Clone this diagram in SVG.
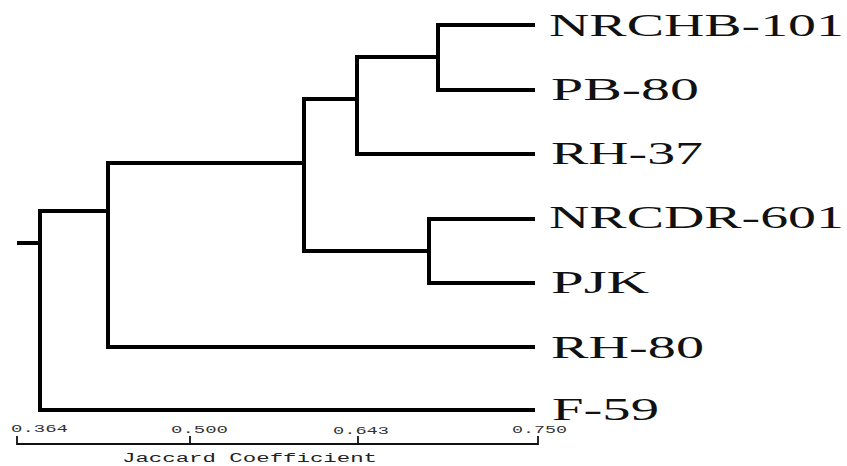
<svg xmlns="http://www.w3.org/2000/svg" width="847" height="466" viewBox="0 0 847 466">
<style>
.br{fill:none;stroke:#000;stroke-width:4;stroke-linecap:square;stroke-linejoin:miter}
.ax{fill:none;stroke:#111;stroke-width:1.8}
.lb{font-family:"Liberation Serif","Times New Roman",serif;font-size:32px;fill:#111}
.tk{font-family:"Liberation Mono","Courier New",monospace;font-size:11px;fill:#333}
.tt{font-family:"Liberation Mono","Courier New",monospace;font-size:12px;fill:#222}
</style>
<rect width="847" height="466" fill="#fff"/>
<g id="connectors">
<polyline class="br" points="533,25 438,25 438,90 533,90"/>
<polyline class="br" points="438,57 357,57 357,154 533,154"/>
<polyline class="br" points="533,219 429,219 429,283 533,283"/>
<polyline class="br" points="357,99 304,99 304,251 429,251"/>
<polyline class="br" points="304,163 108,163 108,347 533,347"/>
<polyline class="br" points="108,211 40,211 40,410 533,410"/>
<line class="br" x1="19" y1="243" x2="40" y2="243"/>
</g>
<g id="leaf-NRCHB-101"><text class="lb" x="549" y="36" textLength="295" lengthAdjust="spacingAndGlyphs">NRCHB-101</text></g>
<g id="leaf-PB-80"><text class="lb" x="551" y="100" textLength="148" lengthAdjust="spacingAndGlyphs">PB-80</text></g>
<g id="leaf-RH-37"><text class="lb" x="551" y="164" textLength="152" lengthAdjust="spacingAndGlyphs">RH-37</text></g>
<g id="leaf-NRCDR-601"><text class="lb" x="549" y="228" textLength="295" lengthAdjust="spacingAndGlyphs">NRCDR-601</text></g>
<g id="leaf-PJK"><text class="lb" x="551" y="293" textLength="98" lengthAdjust="spacingAndGlyphs">PJK</text></g>
<g id="leaf-RH-80"><text class="lb" x="551" y="358" textLength="153" lengthAdjust="spacingAndGlyphs">RH-80</text></g>
<g id="leaf-F-59"><text class="lb" x="552" y="420" textLength="107" lengthAdjust="spacingAndGlyphs">F-59</text></g>
<g id="axis">
<polyline class="ax" points="17,436 17,444 538,444 538,436"/>
<line class="ax" x1="190" y1="436" x2="190" y2="444"/>
<line class="ax" x1="358" y1="436" x2="358" y2="444"/>
<text class="tk" x="11" y="432" textLength="57" lengthAdjust="spacingAndGlyphs">0.364</text>
<text class="tk" x="171" y="433" textLength="57" lengthAdjust="spacingAndGlyphs">0.500</text>
<text class="tk" x="333" y="434" textLength="56" lengthAdjust="spacingAndGlyphs">0.643</text>
<text class="tk" x="512" y="433" textLength="55" lengthAdjust="spacingAndGlyphs">0.750</text>
<text class="tt" x="122" y="462" textLength="255" lengthAdjust="spacingAndGlyphs">Jaccard Coefficient</text>
</g>
</svg>
